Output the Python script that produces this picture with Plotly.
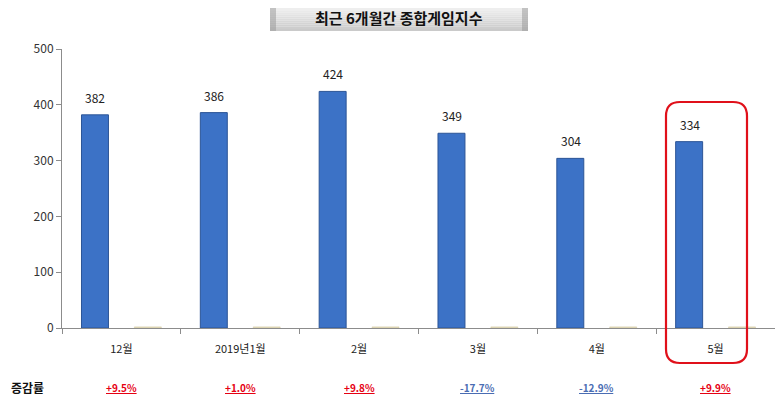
import plotly.graph_objects as go

categories = ["12월", "2019년1월", "2월", "3월", "4월", "5월"]
index_values = [382, 386, 424, 349, 304, 334]
minor_values = [2, 2, 2, 2, 2, 2]
change_labels = ["+9.5%", "+1.0%", "+9.8%", "-17.7%", "-12.9%", "+9.9%"]
title_text = "최근 6개월간 종합게임지수"
row_label = "증감률"

FONT = "Noto Sans CJK KR"
PW, PH = 713, 279      # plot area size in px
X0, Y0 = 62, 328       # plot-area left edge / baseline in reference px

def px_x(p):
    return (p - X0) / PW

def px_y(p):
    return (Y0 - p) / PH

fig = go.Figure()
fig.add_trace(go.Bar(
    x=categories, y=index_values,
    marker=dict(color="#3c72c6", line=dict(color="#2c5596", width=1)),
    showlegend=False, hoverinfo="skip",
))
fig.add_trace(go.Bar(
    x=categories, y=minor_values,
    marker=dict(color="#e3dcbc", line=dict(color="#d2c9a2", width=0.5)),
    showlegend=False, hoverinfo="skip",
))

annotations = []
for c, v in zip(categories, index_values):
    annotations.append(dict(
        x=c, y=v, xref="x", yref="y", text=str(v), showarrow=False,
        yanchor="bottom", yshift=7, xshift=-26,
        font=dict(family=FONT, size=12, color="#222222"),
    ))
for c, t in zip(categories, change_labels):
    col = "#e60012" if t.startswith("+") else "#4a6db3"
    annotations.append(dict(
        x=c, y=px_y(387), xref="x", yref="paper", text="<u><b>%s</b></u>" % t,
        showarrow=False, yanchor="middle",
        font=dict(family=FONT, size=10, color=col),
    ))
annotations.append(dict(
    x=px_x(27), y=px_y(387), xref="paper", yref="paper", text="<b>%s</b>" % row_label,
    showarrow=False, xanchor="center", yanchor="middle",
    font=dict(family=FONT, size=12, color="#111111"),
))
annotations.append(dict(
    x=px_x(399), y=px_y(18), xref="paper", yref="paper",
    text="<b>%s</b>" % title_text, showarrow=False,
    xanchor="center", yanchor="middle",
    font=dict(family=FONT, size=15, color="#111111"),
))

shapes = []
# title box with simple vertical gradient
tx0, tx1 = px_x(270), px_x(528)
top_px, bot_px = 6, 31
n = 12
for i in range(n):
    t = i / (n - 1)
    g = int(242 - 40 * t)
    ya = px_y(top_px + (bot_px - top_px) * i / n)
    yb = px_y(top_px + (bot_px - top_px) * (i + 1) / n)
    shapes.append(dict(type="rect", xref="paper", yref="paper",
                       x0=tx0, x1=tx1, y0=yb, y1=ya,
                       fillcolor="rgb(%d,%d,%d)" % (g, g, g), line=dict(width=0), layer="below"))
for xa, xb in [(270, 276), (522, 528)]:
    shapes.append(dict(type="rect", xref="paper", yref="paper",
                       x0=px_x(xa), x1=px_x(xb), y0=px_y(bot_px), y1=px_y(top_px),
                       fillcolor="rgba(150,150,150,0.5)", line=dict(width=0), layer="below"))

# red rounded highlight rectangle
rx0, rx1 = px_x(666), px_x(747)
ry0, ry1 = px_y(363), px_y(102)
r_x, r_y = 14 / PW, 14 / PH
path = (
    f"M {rx0 + r_x},{ry1} L {rx1 - r_x},{ry1} Q {rx1},{ry1} {rx1},{ry1 - r_y} "
    f"L {rx1},{ry0 + r_y} Q {rx1},{ry0} {rx1 - r_x},{ry0} "
    f"L {rx0 + r_x},{ry0} Q {rx0},{ry0} {rx0},{ry0 + r_y} "
    f"L {rx0},{ry1 - r_y} Q {rx0},{ry1} {rx0 + r_x},{ry1} Z"
)
shapes.append(dict(type="path", xref="paper", yref="paper", path=path,
                   line=dict(color="#e0101a", width=2.2)))

# page body has an 8px margin, so shrink figure and left/top margins by 8px
fig.update_layout(
    width=775, height=393,
    margin=dict(l=54, r=8, t=41, b=73),
    paper_bgcolor="white", plot_bgcolor="white",
    barmode="group", bargap=0.11, bargroupgap=0.49,
    font=dict(family=FONT, size=12, color="#333333"),
    annotations=annotations, shapes=shapes,
    xaxis=dict(
        type="category", showline=True, linecolor="#8c8c8c", linewidth=1,
        ticks="outside", tickson="boundaries", ticklen=5, tickcolor="#8c8c8c",
        showgrid=False, tickfont=dict(family=FONT, size=11, color="#222222"),
        ticklabelstandoff=11,
    ),
    yaxis=dict(
        range=[0, 500], dtick=100, showline=True, linecolor="#8c8c8c", linewidth=1,
        ticks="outside", ticklen=5, tickcolor="#8c8c8c", showgrid=False,
        zeroline=False, tickfont=dict(family=FONT, size=12, color="#333333"),
    ),
)

fig.write_html("out.html")
